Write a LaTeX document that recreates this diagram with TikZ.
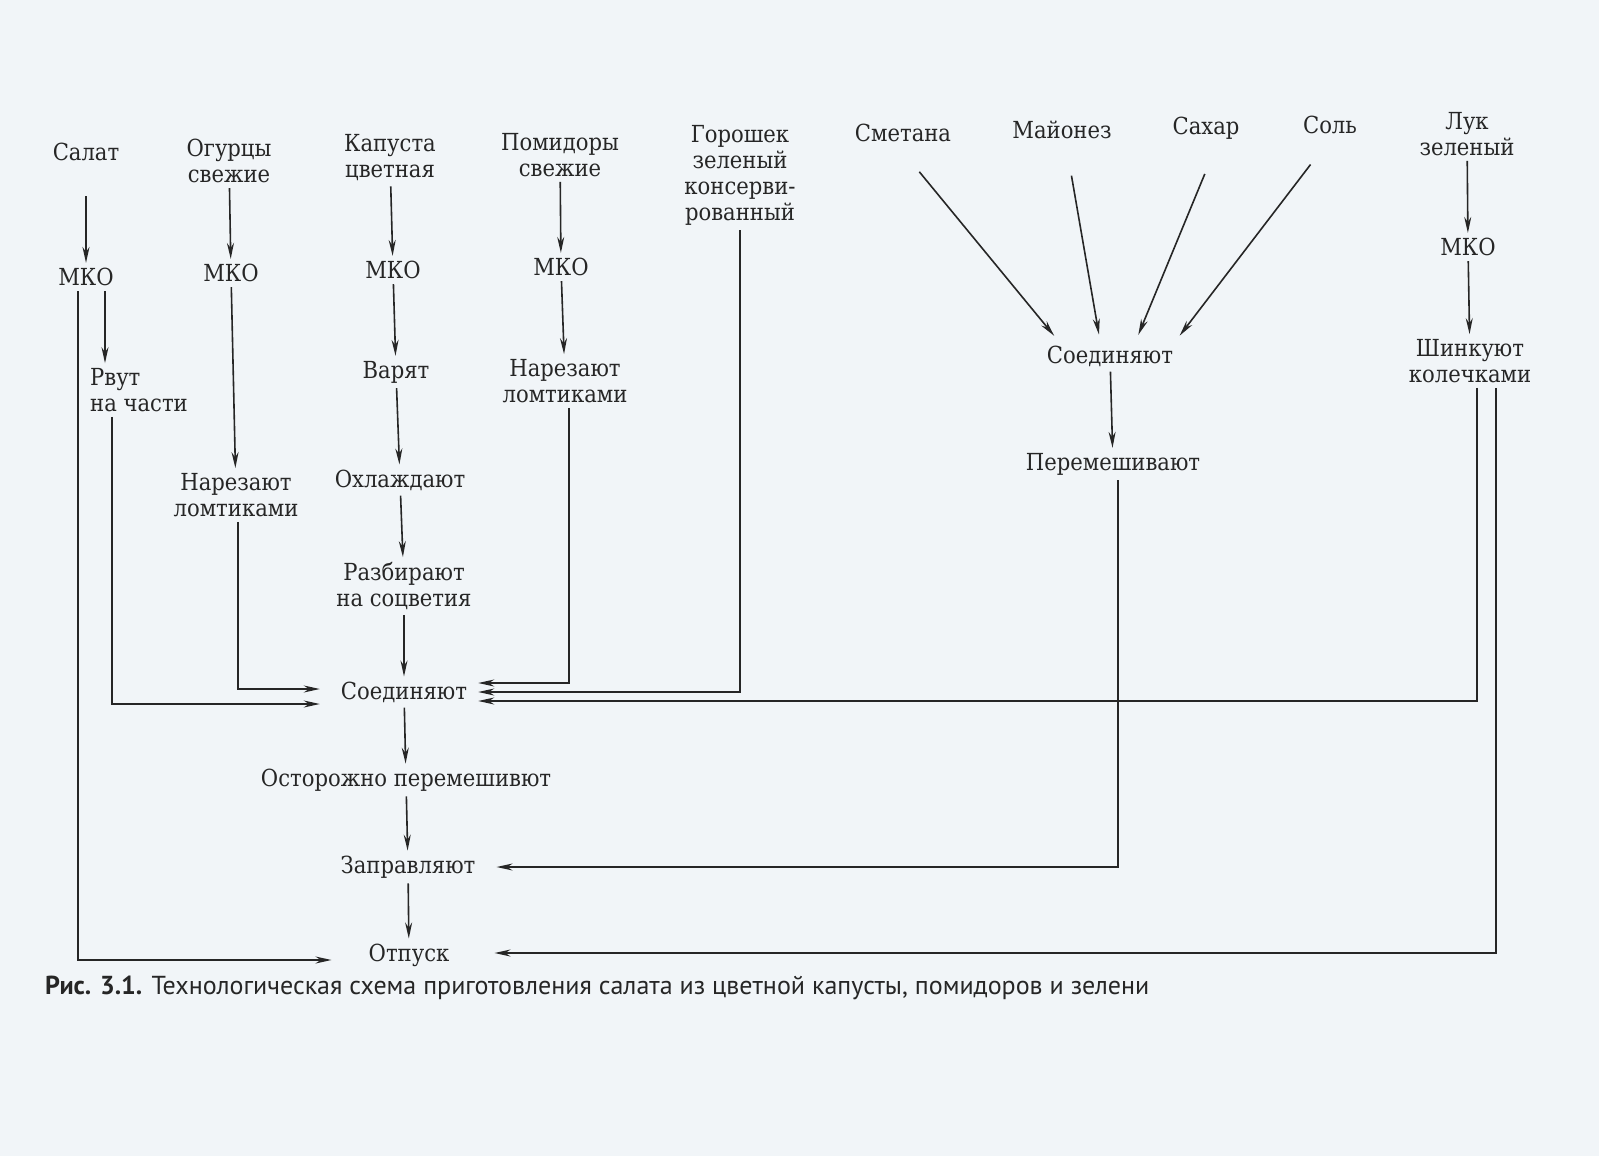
\documentclass[tikz,border=0pt]{standalone}
\usepackage{fontspec}
\setmainfont{DejaVu Serif Condensed}
\newfontfamily\capfont{PT Sans}
\usetikzlibrary{arrows.meta}
\definecolor{mainBlack}{gray}{0.15}
\definecolor{paperTint}{RGB}{241,245,248}

\begin{document}
\begin{tikzpicture}[x=1pt, y=-1pt, >={Stealth[length=16pt, width=7pt]},
    lbl/.style={text=mainBlack, font=\fontsize{23.5}{26}\selectfont, align=center, inner sep=5pt},
    arr/.style={->, line width=1.6pt, draw=mainBlack}]
    \fill[paperTint] (0,0) rectangle (1599,1156);
    \useasboundingbox (0,0) rectangle (1599,1156);

    % raw products
    \node[lbl] (salat) at (86,152) {Салат};
    \node[lbl] (ogur) at (229,161) {Огурцы\\свежие};
    \node[lbl] (kap) at (390,158) {Капуста\\цветная};
    \node[lbl] (pom) at (560,155) {Помидоры\\свежие};
    \node[lbl] (gor) at (740,175) {Горошек\\зеленый\\консерви-\\рованный};
    \node[lbl] (smet) at (903,133) {Сметана};
    \node[lbl] (mayo) at (1062,130) {Майонез};
    \node[lbl] (sahar) at (1206,128) {Сахар};
    \node[lbl] (sol) at (1330,125) {Соль};
    \node[lbl] (luk) at (1467,134) {Лук\\зеленый};

    % MKO
    \node[lbl] (mkoA) at (86,277) {МКО};
    \node[lbl] (mkoB) at (231,273) {МКО};
    \node[lbl] (mkoC) at (393,270) {МКО};
    \node[lbl] (mkoD) at (561,267) {МКО};
    \node[lbl] (mkoE) at (1468,247) {МКО};

    \node[lbl, align=left] (rvut) at (139,390) {Рвут\\на части};
    \node[lbl] (narB) at (236,495) {Нарезают\\ломтиками};
    \node[lbl] (varyat) at (396,372) {Варят};
    \node[lbl] (ohl) at (400,480) {Охлаждают};
    \node[lbl] (razb) at (404,586) {Разбирают\\на соцветия};
    \node[lbl] (narD) at (565,381) {Нарезают\\ломтиками};
    \node[lbl] (soed) at (404,692) {Соединяют};
    \node[lbl] (ostor) at (406,780) {Осторожно перемешивют};
    \node[lbl] (zapr) at (408,867) {Заправляют};
    \node[lbl] (otp) at (409,955) {Отпуск};

    % dressing
    \node[lbl] (soedR) at (1110,356) {Соединяют};
    \node[lbl] (perem) at (1113,464) {Перемешивают};
    \node[lbl] (shink) at (1470,361) {Шинкуют\\колечками};

    \node[anchor=west, inner sep=0pt, text=mainBlack, font=\capfont\fontsize{26}{30}\selectfont] (caption) at (45,988)
        {\textbf{Рис. 3.1.} Технологическая схема приготовления салата из цветной капусты, помидоров и зелени};

    \draw[arr, shorten <=30pt] (salat) -- (mkoA);
    \foreach \a/\b in {ogur/mkoB, kap/mkoC, pom/mkoD, luk/mkoE, mkoB/narB, mkoD/narD, mkoE/shink, soedR/perem,
        mkoC/varyat, varyat/ohl, ohl/razb, razb/soed, soed/ostor, ostor/zapr, zapr/otp}
        \draw[arr] (\a) -- (\b);

    % salat
    \draw[arr] ([xshift=19pt]mkoA.south) -- ([xshift=19pt]mkoA.south |- rvut.north);
    \draw[arr, shorten >=32pt] ([xshift=-8pt]mkoA.south) |- ([yshift=-5pt]otp.west);
    \draw[arr, shorten >=16pt] ([xshift=-27pt]rvut.south) |- ([yshift=-12pt]soed.west);
    \draw[arr, shorten >=16pt] ([xshift=2pt]narB.south) |- ([yshift=3pt]soed.west);

    % right side into Соединяют
    \draw[arr, shorten >=6pt] ([xshift=4pt]narD.south) |- ([yshift=9pt]soed.east);
    \draw[arr, shorten >=6pt] (gor.south) |- (soed.east);
    \draw[arr, shorten >=6pt] ([xshift=7pt]shink.south) |- ([yshift=-9pt]soed.east);
    \draw[arr, shorten >=40pt] ([xshift=26pt]shink.south) |- ([yshift=2pt]otp.east);

    % dressing
    \draw[arr, shorten <=32pt, shorten >=6pt] ([xshift=-4pt]smet.south) -- ([xshift=-52pt]soedR.north);
    \draw[arr, shorten <=32pt, shorten >=6pt] ([xshift=4pt]mayo.south) -- ([xshift=-10pt]soedR.north);
    \draw[arr, shorten <=32pt, shorten >=6pt] ([xshift=11pt]sahar.south) -- ([xshift=26pt]soedR.north);
    \draw[arr, shorten <=32pt, shorten >=6pt] ([xshift=0pt]sol.south) -- ([xshift=66pt]soedR.north);
    \draw[arr, shorten >=16pt] ([xshift=5pt]perem.south) |- (zapr.east);
\end{tikzpicture}
\end{document}
